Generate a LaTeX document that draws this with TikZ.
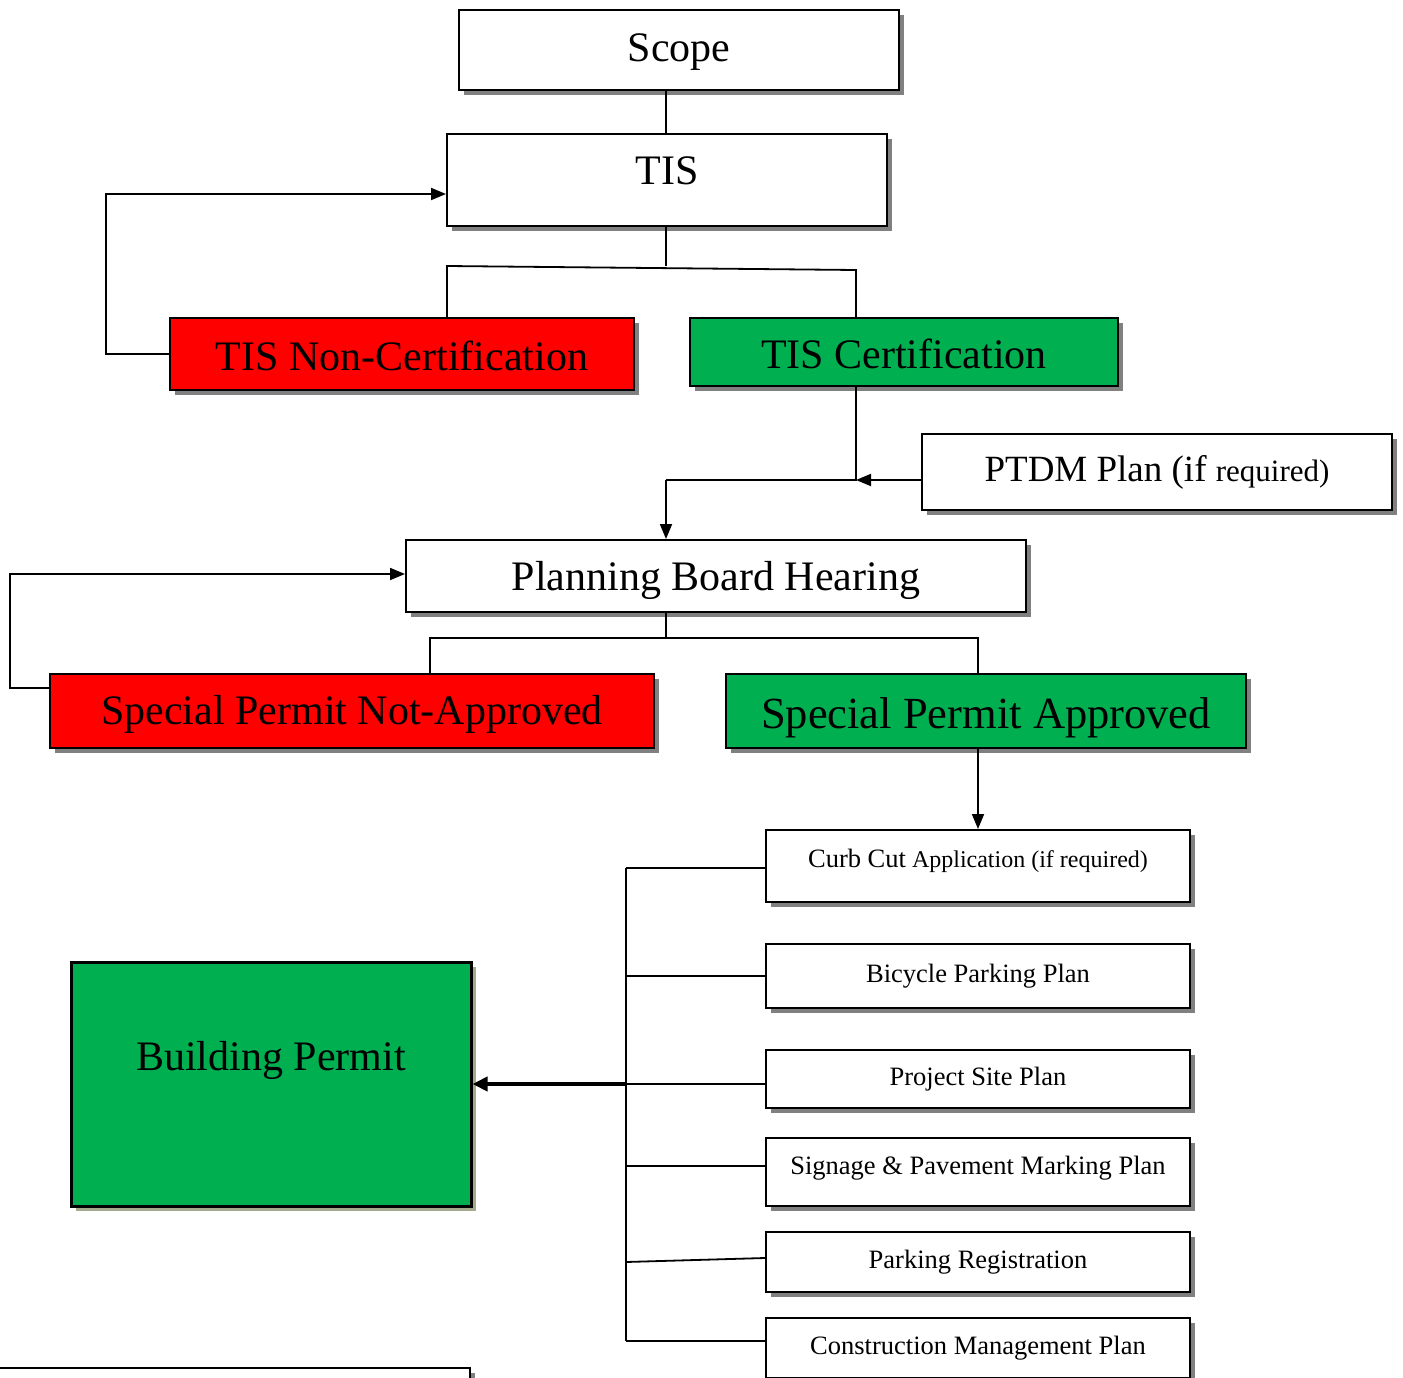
\documentclass[tikz,border=0pt]{standalone}
\usepackage{fontspec}
\setmainfont{Liberation Serif}
\usetikzlibrary{arrows.meta,shadows}
\definecolor{okgreen}{HTML}{00B050}
\definecolor{shadegray}{HTML}{808080}
\definecolor{shadekhaki}{HTML}{A3AA8E}
\tikzset{
  box/.style={draw, line width=2pt, fill=white, inner sep=0pt,
    drop shadow={shadow xshift=5pt, shadow yshift=-5pt, fill=shadegray, opacity=1}},
  big/.style={box, font=\fontsize{42}{48}\selectfont},
  small/.style={box, minimum width=424pt, font=\fontsize{26.5}{30}\selectfont},
  redbox/.style={big, fill=red},
  greenbox/.style={big, fill=okgreen},
  link/.style={line width=1.8pt},
  arr/.style={link, -{Triangle[length=15pt,width=12pt]}},
}
\begin{document}
\begin{tikzpicture}[x=1pt,y=-1pt]
\useasboundingbox (0,0) rectangle (1403,1378);
\node[big, minimum width=440pt, minimum height=80pt, text height=32.5pt] (scope) at (679,50){Scope};
\node[big, minimum width=440pt, minimum height=92pt, text depth=18pt] (tis) at (667,180){TIS};
\node[redbox, minimum width=464pt, minimum height=72pt, text height=32.5pt] (noncert) at (402,354){TIS Non-Certification};
\node[greenbox, minimum width=428pt, minimum height=68pt, text height=32.5pt] (cert) at (904,352){TIS Certification};
\node[box, minimum width=470pt, minimum height=76pt, font=\fontsize{37}{42}\selectfont] (ptdm) at (1157,472){PTDM Plan (if {\fontsize{31}{34}\selectfont required)}};
\node[big, minimum width=620pt, minimum height=72pt, text height=38.5pt] (pbh) at (716,576){Planning Board Hearing};
\node[redbox, minimum width=604pt, minimum height=74pt, text height=36.5pt] (spna) at (352,711){Special Permit Not-Approved};
\node[greenbox, minimum width=520pt, minimum height=74pt, text height=45pt, font=\fontsize{44.5}{50}\selectfont] (spa) at (986,711){Special Permit Approved};
\node[small, minimum height=72pt, text depth=16pt, font=\fontsize{24}{28}\selectfont] (curb) at (978,866){{\fontsize{26.5}{30}\selectfont Curb Cut} Application (if required)};
\node[small, minimum height=64pt] (bike) at (978,976){Bicycle Parking Plan};
\node[small, minimum height=58pt] (site) at (978,1079){Project Site Plan};
\node[small, minimum height=68pt, text depth=12.5pt] (sign) at (978,1172){Signage \& Pavement Marking Plan};
\node[small, minimum height=60pt] (preg) at (978,1262){Parking Registration};
\node[small, minimum height=60pt] (cmp) at (978,1348){Construction Management Plan};
\node[greenbox, line width=3pt, minimum width=400pt, minimum height=244pt, text depth=57pt,
  drop shadow={shadow xshift=5pt, shadow yshift=-5pt, fill=shadekhaki, opacity=1}] (bp) at (271,1084){Building Permit};
\node[box, minimum width=490pt, minimum height=80pt] (nextbox) at (225,1408){};
\coordinate (tisL) at (447,266);
\coordinate (tisR) at (856,270);
\coordinate (loopA) at (106,194);
\coordinate (merge) at (856,480);
\coordinate (turn) at (666,480);
\coordinate (pbhM) at (666,638);
\coordinate (pbhL) at (430,638);
\coordinate (pbhR) at (978,638);
\coordinate (loopB) at (10,574);
\coordinate (busT) at (626,868);
\coordinate (busS) at (626,1084);
\coordinate (busP) at (626,1262);
\coordinate (busB) at (626,1341);
\draw[link](tis.north -| turn) -- (scope.south -| turn);
\draw[link](tis.south -| turn) -- (turn |- tisL);
\draw[link](noncert.north -| tisL) -- (tisL) -- (tisR) -- (cert.north -| tisR);
\draw[arr](noncert.west) -| (loopA) -- (tis.west |- loopA);
\draw[link](cert.south -| merge) -- (merge) -- (turn);
\draw[arr](ptdm.west |- merge) -- (merge);
\draw[arr](turn) -- (pbh.north -| turn);
\draw[link](pbh.south -| pbhM) -- (pbhM);
\draw[link](spna.north -| pbhL) -- (pbhL) -- (pbhR) -- (spa.north -| pbhR);
\draw[arr]([yshift=23pt]spna.west) -| (loopB) -- (pbh.west |- loopB);
\draw[arr](spa.south -| curb.north) -- (curb.north);
\draw[link](busT) -- (busB);
\draw[link](busT) -- (curb.west |- busT);
\draw[link](bike.west -| busT) -- (bike.west);
\draw[link](busS) -- (site.west |- busS);
\draw[link]([yshift=6pt]sign.west -| busT) -- ([yshift=6pt]sign.west);
\draw[link](busP) -- ([yshift=4pt]preg.west);
\draw[link](busB) -- (cmp.west |- busB);
\draw[line width=4pt, -{Triangle[length=15pt,width=14pt]}](busS) -- (bp.east |- busS);
\end{tikzpicture}
\end{document}
